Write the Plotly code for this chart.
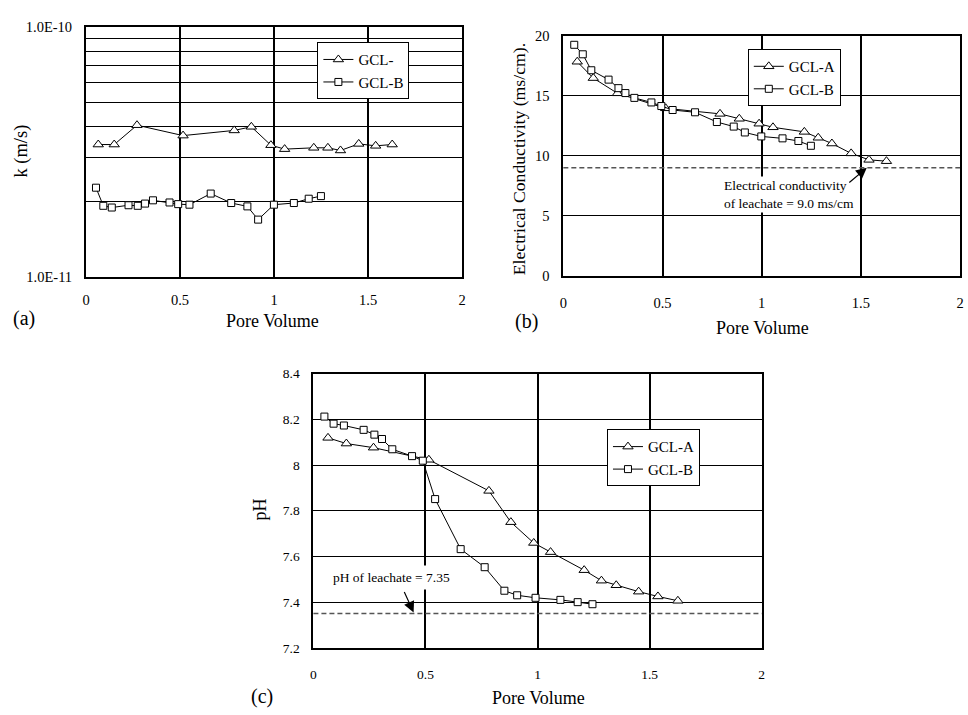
import plotly.graph_objects as go

FONT = "Liberation Serif, Times New Roman, serif"

# ---------------- data ----------------
pv_a_A = [0.065, 0.150, 0.271, 0.516, 0.788, 0.879, 0.983, 1.056, 1.211, 1.286, 1.353, 1.450, 1.540, 1.628]
k_A = [3.39e-11, 3.39e-11, 4.05e-11, 3.68e-11, 3.86e-11, 3.99e-11, 3.37e-11, 3.25e-11, 3.29e-11,
       3.29e-11, 3.21e-11, 3.41e-11, 3.35e-11, 3.39e-11]
pv_a_B = [0.053, 0.092, 0.137, 0.226, 0.275, 0.314, 0.356, 0.444, 0.490, 0.550, 0.663, 0.772, 0.858,
          0.915, 0.999, 1.105, 1.184, 1.249]
k_B = [2.28e-11, 1.93e-11, 1.90e-11, 1.94e-11, 1.93e-11, 1.97e-11, 2.03e-11, 1.99e-11, 1.96e-11,
       1.95e-11, 2.16e-11, 1.98e-11, 1.92e-11, 1.70e-11, 1.95e-11, 1.98e-11, 2.06e-11, 2.11e-11]

pv_b_A = [0.070, 0.151, 0.273, 0.516, 0.790, 0.887, 0.987, 1.057, 1.215, 1.285, 1.354, 1.451, 1.541, 1.629]
ec_A = [17.83, 16.47, 15.20, 13.95, 13.49, 13.08, 12.67, 12.37, 11.99, 11.50, 11.02, 10.20, 9.66, 9.55]
pv_b_B = [0.055, 0.098, 0.141, 0.228, 0.278, 0.313, 0.358, 0.444, 0.494, 0.551, 0.664, 0.774, 0.859,
          0.915, 0.998, 1.105, 1.185, 1.248]
ec_B = [19.24, 18.45, 17.12, 16.34, 15.63, 15.22, 14.82, 14.44, 14.14, 13.81, 13.62, 12.81, 12.43,
        11.94, 11.61, 11.45, 11.23, 10.83]

pv_c_A = [0.065, 0.147, 0.268, 0.515, 0.783, 0.881, 0.983, 1.058, 1.208, 1.285, 1.351, 1.451, 1.537, 1.626]
ph_A = [8.119, 8.094, 8.076, 8.023, 7.887, 7.750, 7.659, 7.619, 7.540, 7.494, 7.474, 7.446, 7.425, 7.406]
pv_c_B = [0.049, 0.090, 0.136, 0.224, 0.272, 0.306, 0.352, 0.440, 0.488, 0.543, 0.657, 0.764, 0.852,
          0.909, 0.991, 1.102, 1.179, 1.245]
ph_B = [8.212, 8.181, 8.173, 8.154, 8.133, 8.114, 8.069, 8.039, 8.019, 7.851, 7.632, 7.553, 7.450,
        7.430, 7.419, 7.410, 7.400, 7.391]

EC_LEACHATE = 9.0
PH_LEACHATE = 7.35

x_ticks = [0, 0.5, 1, 1.5, 2]
k_ticks = [1e-11, 2e-11, 3e-11, 4e-11, 5e-11, 6e-11, 7e-11, 8e-11, 9e-11, 1e-10]
k_ticktext = ["1.0E-11", "", "", "", "", "", "", "", "", "1.0E-10"]
ec_ticks = [0, 5, 10, 15, 20]
ph_ticks = [7.2, 7.4, 7.6, 7.8, 8.0, 8.2, 8.4]

# ---------------- figure ----------------
W, H = 968, 715
fig = go.Figure()

def add_pair(xA, yA, xB, yB, xa, ya, leg, nameA):
    fig.add_trace(go.Scatter(
        x=xA, y=yA, mode="lines+markers", name=nameA, xaxis=xa, yaxis=ya, legend=leg,
        line=dict(color="black", width=1),
        marker=dict(symbol="triangle-up", size=9, color="white", line=dict(color="black", width=1))))
    fig.add_trace(go.Scatter(
        x=xB, y=yB, mode="lines+markers", name="GCL-B", xaxis=xa, yaxis=ya, legend=leg,
        line=dict(color="black", width=1),
        marker=dict(symbol="square", size=7, color="white", line=dict(color="black", width=1))))

add_pair(pv_a_A, k_A, pv_a_B, k_B, "x", "y", "legend", "GCL-")
add_pair(pv_b_A, ec_A, pv_b_B, ec_B, "x2", "y2", "legend2", "GCL-A")
add_pair(pv_c_A, ph_A, pv_c_B, ph_B, "x3", "y3", "legend3", "GCL-A")

def px_x(p):
    return p / W

def px_y(p):
    return 1 - p / H

def xaxis(dom, anchor, ticklen, size):
    return dict(domain=[px_x(dom[0]), px_x(dom[1])], anchor=anchor, range=[0, 2],
                tickvals=x_ticks, showgrid=True, gridcolor="black", gridwidth=2,
                showline=True, linecolor="black", linewidth=2, mirror=True,
                ticks="outside", ticklen=ticklen, tickcolor="rgba(0,0,0,0)",
                tickfont=dict(family=FONT, size=size, color="black"), zeroline=False)

def yaxis(dom, anchor, size, **kw):
    d = dict(domain=[px_y(dom[1]), px_y(dom[0])], anchor=anchor,
             showgrid=True, gridcolor="black", gridwidth=1,
             showline=True, linecolor="black", linewidth=2, mirror=True,
             ticks="outside", ticklen=9, tickcolor="rgba(0,0,0,0)",
             tickfont=dict(family=FONT, size=size, color="black"), zeroline=False)
    d.update(kw)
    return d

fig.update_layout(
    width=W, height=H, margin=dict(l=0, r=0, t=0, b=0),
    paper_bgcolor="white", plot_bgcolor="white",
    font=dict(family=FONT, color="black"),
    xaxis=xaxis((82.7, 462), "y", 8, 14.5),
    yaxis=yaxis((19.3, 275.5), "x", 14.5, type="log", range=[-11, -10],
                tickvals=k_ticks, ticktext=k_ticktext),
    xaxis2=xaxis((564, 964), "y2", 13, 14.5),
    yaxis2=yaxis((28.3, 274), "x2", 14.5, range=[0, 20], tickvals=ec_ticks),
    xaxis3=xaxis((312, 764), "y3", 13, 13.5),
    yaxis3=yaxis((374, 654.5), "x3", 13.5, range=[7.2, 8.4], tickvals=ph_ticks),
)

legend_style = dict(bgcolor="white", bordercolor="black", borderwidth=1,
                    font=dict(family=FONT, size=15, color="black"),
                    xanchor="left", yanchor="top", tracegroupgap=0, itemwidth=30)
fig.update_layout(
    legend=dict(x=px_x(316), y=px_y(35), **legend_style),
    legend2=dict(x=px_x(750), y=px_y(42), **legend_style),
    legend3=dict(x=px_x(608), y=px_y(431), **legend_style),
)

# leachate reference lines
fig.add_shape(type="line", xref="x2 domain", x0=0, x1=1, yref="y2", y0=EC_LEACHATE, y1=EC_LEACHATE,
              line=dict(color="#555555", width=1.5, dash="5px,3px"))
fig.add_shape(type="line", xref="x3 domain", x0=0, x1=1, yref="y3", y0=PH_LEACHATE, y1=PH_LEACHATE,
              line=dict(color="#555555", width=1.5, dash="5px,3px"))

ann = []
def text(t, x, y, size, angle=0, xanchor="center", **kw):
    d = dict(text=t, xref="paper", yref="paper", x=px_x(x), y=px_y(y), showarrow=False,
             xanchor=xanchor, yanchor="middle", textangle=angle,
             font=dict(family=FONT, size=size, color="black"))
    d.update(kw)
    ann.append(d)

# axis titles and panel labels
text("k (m/s)", 18, 146, 18.5, angle=-90)
text("Pore Volume", 271, 320, 18)
text("(a)", 20, 318, 20)
text("Electrical Conductivity (ms/cm).", 519, 155, 17.7, angle=-90)
text("Pore Volume", 765, 327, 18)
text("(b)", 527, 321, 20)
text("pH", 258, 513, 18, angle=-90)
text("Pore Volume", 539, 706, 18)
text("(c)", 260, 704, 20)

# leachate annotations
text("Electrical conductivity<br>of leachate = 9.0 ms/cm", 724, 191, 13.5, xanchor="left",
     align="left", bgcolor="white", borderpad=1)
text("pH of leachate = 7.35", 391, 583, 13.5, bgcolor="white", borderpad=4)

ann.append(dict(text="", x=1.53, y=EC_LEACHATE, xref="x2", yref="y2", showarrow=True,
                ax=-19, ay=16, arrowhead=2, arrowsize=1.8, arrowwidth=1.2, arrowcolor="black",
                standoff=0))
ann.append(dict(text="", x=0.447, y=PH_LEACHATE + 0.005, xref="x3", yref="y3", showarrow=True,
                ax=-10, ay=-22, arrowhead=2, arrowsize=1.8, arrowwidth=1.2, arrowcolor="black",
                standoff=0))

fig.update_layout(annotations=ann)
fig.write_html(
    "out.html",
    config={"displayModeBar": False},
    post_script="document.body.style.margin='0';document.body.style.overflow='hidden';",
)
